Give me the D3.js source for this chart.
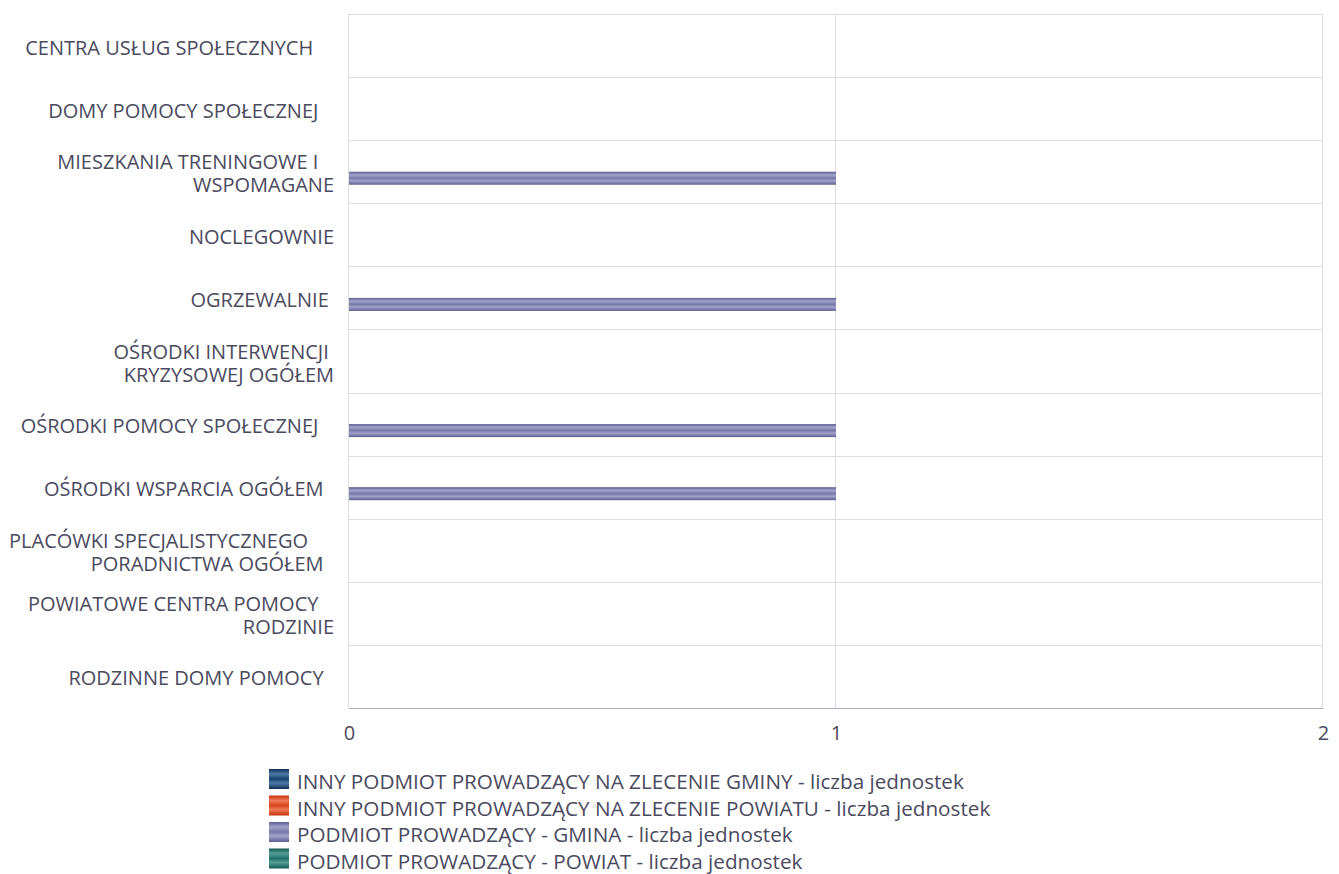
<!DOCTYPE html>
<html>
<head>
<meta charset="utf-8">
<script src="https://cdn.jsdelivr.net/npm/d3@7"></script>
<style>
  html, body { margin: 0; padding: 0; background: #ffffff; }
  svg { display: block; font-family: "Open Sans", "Noto Sans", sans-serif; }
</style>
</head>
<body>
<svg id="chart" width="1339" height="874"></svg>
<script>
// ---------- data ----------
const categories = [
  "CENTRA USŁUG SPOŁECZNYCH",
  "DOMY POMOCY SPOŁECZNEJ",
  "MIESZKANIA TRENINGOWE I WSPOMAGANE",
  "NOCLEGOWNIE",
  "OGRZEWALNIE",
  "OŚRODKI INTERWENCJI KRYZYSOWEJ OGÓŁEM",
  "OŚRODKI POMOCY SPOŁECZNEJ",
  "OŚRODKI WSPARCIA OGÓŁEM",
  "PLACÓWKI SPECJALISTYCZNEGO PORADNICTWA OGÓŁEM",
  "POWIATOWE CENTRA POMOCY RODZINIE",
  "RODZINNE DOMY POMOCY"
];
// wrapped lines as displayed (with trailing spaces as in the source labels)
const categoryLines = [
  ["CENTRA USŁUG SPOŁECZNYCH    "],
  ["DOMY POMOCY SPOŁECZNEJ   "],
  ["MIESZKANIA TRENINGOWE I   ", "WSPOMAGANE"],
  ["NOCLEGOWNIE"],
  ["OGRZEWALNIE "],
  ["OŚRODKI INTERWENCJI ", "KRYZYSOWEJ OGÓŁEM"],
  ["OŚRODKI POMOCY SPOŁECZNEJ   "],
  ["OŚRODKI WSPARCIA OGÓŁEM  "],
  ["PLACÓWKI SPECJALISTYCZNEGO     ", "PORADNICTWA OGÓŁEM  "],
  ["POWIATOWE CENTRA POMOCY   ", "RODZINIE"],
  ["RODZINNE DOMY POMOCY  "]
];
const seriesNames = [
  "INNY PODMIOT PROWADZĄCY NA ZLECENIE GMINY - liczba jednostek",
  "INNY PODMIOT PROWADZĄCY NA ZLECENIE POWIATU - liczba jednostek",
  "PODMIOT PROWADZĄCY - GMINA - liczba jednostek",
  "PODMIOT PROWADZĄCY - POWIAT - liczba jednostek"
];
const valuesGminyZlecenie   = [0,0,0,0,0,0,0,0,0,0,0];
const valuesPowiatuZlecenie = [0,0,0,0,0,0,0,0,0,0,0];
const valuesGmina           = [0,0,1,0,1,0,1,1,0,0,0];
const valuesPowiat          = [0,0,0,0,0,0,0,0,0,0,0];
const seriesValues = [valuesGminyZlecenie, valuesPowiatuZlecenie, valuesGmina, valuesPowiat];
const xTicks = [0, 1, 2];

// ---------- style ----------
const seriesColors = [
  { base: "#15426f", light: "#4f7aa6", dark: "#0d2f55" },
  { base: "#d8431a", light: "#ef7a58", dark: "#c2330c" },
  { base: "#7878a9", light: "#a2a2ca", dark: "#5d5d92" },
  { base: "#1f6f68", light: "#559d95", dark: "#145a53" }
];
const textColor = "#4a4a5e";

const W = 1339, H = 874;
const margin = { left: 349, right: 16, top: 14, bottom: 166 };
const plotW = W - margin.left - margin.right;
const plotH = H - margin.top - margin.bottom;

const svg = d3.select("#chart");
const defs = svg.append("defs");
seriesColors.forEach((c, i) => {
  const g = defs.append("linearGradient").attr("id", "grad" + i)
    .attr("x1", 0).attr("y1", 0).attr("x2", 0).attr("y2", 1);
  g.append("stop").attr("offset", "0%").attr("stop-color", c.dark);
  g.append("stop").attr("offset", "25%").attr("stop-color", c.light);
  g.append("stop").attr("offset", "50%").attr("stop-color", c.base);
  g.append("stop").attr("offset", "70%").attr("stop-color", c.light);
  g.append("stop").attr("offset", "100%").attr("stop-color", c.dark);
});

const x = d3.scaleLinear().domain([0, 2]).range([margin.left, margin.left + plotW]);
const y = d3.scaleBand().domain(categories).range([margin.top, margin.top + plotH]).padding(0);
const ySub = d3.scaleBand().domain(d3.range(seriesNames.length))
  .range([0, y.bandwidth()]).paddingInner(0).paddingOuter(0.427);

// grid: horizontal band boundaries
const bounds = categories.map(c => y(c));
svg.append("g").selectAll("line").data(bounds).join("line")
  .attr("x1", margin.left).attr("x2", margin.left + plotW)
  .attr("y1", d => Math.round(d) + 0.5).attr("y2", d => Math.round(d) + 0.5)
  .attr("stroke", "#dedede").attr("stroke-width", 1);

// vertical grid lines
svg.append("g").selectAll("line").data(xTicks).join("line")
  .attr("x1", d => Math.round(x(d)) - 0.5).attr("x2", d => Math.round(x(d)) - 0.5)
  .attr("y1", margin.top).attr("y2", margin.top + plotH)
  .attr("stroke", "#dedede").attr("stroke-width", 1);

// bars
seriesValues.forEach((vals, si) => {
  svg.append("g").selectAll("rect").data(vals.map((v, i) => ({ v, c: categories[i] })).filter(d => d.v > 0))
    .join("rect")
    .attr("x", x(0))
    .attr("y", d => y(d.c) + ySub(si))
    .attr("width", d => x(d.v) - x(0))
    .attr("height", ySub.bandwidth())
    .attr("fill", "url(#grad" + si + ")");
});

// x axis line
svg.append("line")
  .attr("x1", margin.left).attr("x2", margin.left + plotW)
  .attr("y1", margin.top + plotH + 0.5).attr("y2", margin.top + plotH + 0.5)
  .attr("stroke", "#aaaac2").attr("stroke-width", 1);

// x axis labels
const xAxis = d3.axisBottom(x).tickValues(xTicks).tickSize(0).tickPadding(0).tickFormat(d3.format("d"));
const xg = svg.append("g").attr("transform", `translate(0,${margin.top + plotH})`).call(xAxis);
xg.select(".domain").remove();
xg.selectAll("text").attr("y", 32).attr("dy", null)
  .attr("fill", textColor).style("font-size", "20px").style("font-family", '"Open Sans", sans-serif');

// y labels
const lineH = 23;
const labelG = svg.append("g");
categories.forEach((c, i) => {
  const lines = categoryLines[i];
  const cy = y(c) + y.bandwidth() / 2 + 2;
  const t = labelG.append("text")
    .attr("xml:space", "preserve")
    .style("white-space", "pre")
    .attr("text-anchor", "end")
    .attr("fill", textColor)
    .style("font-size", "20px");
  const y0 = cy - (lines.length - 1) * lineH / 2 + 7;
  lines.forEach((ln, k) => {
    t.append("tspan").attr("x", 334).attr("y", y0 + k * lineH).text(ln);
  });
});

// legend
const legend = svg.append("g");
const legendRowH = 26.5;
seriesNames.forEach((name, i) => {
  const top = 769 + i * legendRowH;
  legend.append("rect").attr("x", 269).attr("y", top).attr("width", 20).attr("height", 20)
    .attr("fill", "url(#grad" + i + ")");
  legend.append("text").attr("x", 297).attr("y", top + 20)
    .attr("fill", textColor).style("font-size", "20.7px").text(name);
});
</script>
</body>
</html>
